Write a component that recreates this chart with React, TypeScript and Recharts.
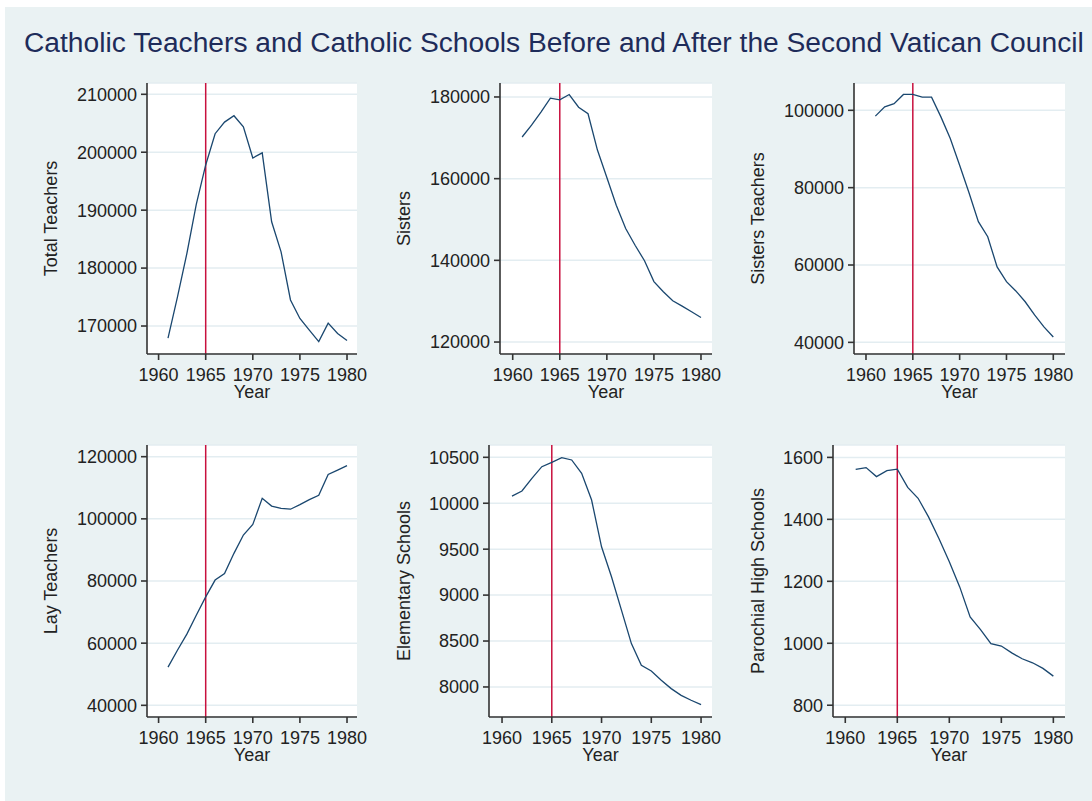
import React from 'react';
import { LineChart, Line, XAxis, YAxis, CartesianGrid, ReferenceLine, Label } from 'recharts';

const years = [1961, 1962, 1963, 1964, 1965, 1966, 1967, 1968, 1969, 1970, 1971, 1972, 1973, 1974, 1975, 1976, 1977, 1978, 1979, 1980];

const totalTeachers = [167900, 175000, 182500, 191000, 197800, 203200, 205200, 206300, 204400, 199000, 199900, 188000, 182800, 174500, 171300, 169300, 167300, 170500, 168700, 167500];
const sisters = [170200, 173100, 176300, 179700, 179300, 180600, 177500, 175900, 167000, 160300, 153500, 147800, 143700, 139900, 134800, 132300, 130100, 128800, 127400, 126000];
const sistersTeachers = [98500, 100900, 101700, 104100, 104100, 103400, 103400, 98300, 92700, 85800, 78700, 71200, 67300, 59500, 55700, 53300, 50500, 47100, 44000, 41400];
const layTeachers = [52300, 57700, 62900, 69000, 74900, 80300, 82400, 88900, 94800, 98200, 106600, 104100, 103400, 103100, 104600, 106200, 107600, 114300, 115700, 117100];
const elementarySchools = [10078, 10133, 10271, 10398, 10445, 10496, 10471, 10326, 10035, 9526, 9199, 8836, 8472, 8236, 8174, 8073, 7982, 7909, 7855, 7807];
const parochialHighSchools = [1561, 1567, 1538, 1557, 1562, 1503, 1468, 1408, 1338, 1263, 1182, 1085, 1044, 999, 991, 969, 950, 937, 919, 894];

const xTicks = [1960, 1965, 1970, 1975, 1980];
const totalTicks = [170000, 180000, 190000, 200000, 210000];
const sistersTicks = [120000, 140000, 160000, 180000];
const sistersTeachersTicks = [40000, 60000, 80000, 100000];
const layTicks = [40000, 60000, 80000, 100000, 120000];
const elementaryTicks = [8000, 8500, 9000, 9500, 10000, 10500];
const parochialTicks = [800, 1000, 1200, 1400, 1600];

const councilYear = 1965;
const chartTitle = 'Catholic Teachers and Catholic Schools Before and After the Second Vatican Council';

const FONT = '"Liberation Sans", Arial, Helvetica, sans-serif';
const TEXT = '#222222';
const AXIS = '#333333';

type Box = { left: number; top: number; right: number; bottom: number };

type PanelProps = {
  label: string;
  values: number[];
  yTicks: number[];
  yDomain: [number, number];
  xDomain: [number, number];
  box: Box;
  labelX: number;
};

function Panel({ label, values, yTicks, yDomain, xDomain, box, labelX }: PanelProps) {
  const data = years.map((y, i) => ({ year: y, v: values[i] }));
  const axisW = 130;
  const mTop = 10;
  const mRight = 10;
  const xH = 60;
  const pw = box.right - box.left;
  const ph = box.bottom - box.top;
  const chartLeft = box.left - axisW;
  const tickStyle = { fill: TEXT, fontSize: 18, fontFamily: FONT };
  return (
    <div style={{ position: 'absolute', left: chartLeft, top: box.top - mTop }}>
      <LineChart
        width={axisW + pw + mRight}
        height={mTop + ph + xH}
        data={data}
        margin={{ top: mTop, right: mRight, bottom: 0, left: 0 }}
      >
        <CartesianGrid vertical={false} fill="#ffffff" fillOpacity={1} stroke="#e3edf1" strokeWidth={1.5} />
        <XAxis
          dataKey="year"
          type="number"
          domain={xDomain}
          ticks={xTicks}
          interval={0}
          allowDataOverflow
          height={xH}
          tickSize={6}
          tickMargin={8}
          tick={tickStyle}
          axisLine={{ stroke: AXIS, strokeWidth: 1.6 }}
          tickLine={{ stroke: AXIS, strokeWidth: 1.6 }}
        >
          <Label value="Year" position="insideBottom" offset={16} style={{ fill: TEXT, fontSize: 18, fontFamily: FONT }} />
        </XAxis>
        <YAxis
          type="number"
          domain={yDomain}
          ticks={yTicks}
          interval={0}
          allowDataOverflow
          width={axisW}
          tickSize={6}
          tickMargin={4}
          tick={tickStyle}
          axisLine={{ stroke: AXIS, strokeWidth: 1.6 }}
          tickLine={{ stroke: AXIS, strokeWidth: 1.6 }}
        >
          <Label
            value={label}
            angle={-90}
            position="insideLeft"
            offset={labelX - chartLeft}
            style={{ textAnchor: 'middle', fill: TEXT, fontSize: 18, fontFamily: FONT }}
          />
        </YAxis>
        <ReferenceLine x={councilYear} stroke="#c8103e" strokeWidth={1.5} />
        <Line
          type="linear"
          dataKey="v"
          stroke="#1a476f"
          strokeWidth={1.3}
          dot={false}
          activeDot={false}
          isAnimationActive={false}
        />
      </LineChart>
    </div>
  );
}

export default function App() {
  return (
    <div
      style={{
        position: 'absolute',
        left: 0,
        top: 0,
        width: 1092,
        height: 801,
        background: '#ffffff',
        overflow: 'hidden',
        fontFamily: FONT,
      }}
    >
      <div style={{ position: 'absolute', left: 5, top: 7, width: 1087, height: 794, background: '#eaf2f3' }} />
      <svg style={{ position: 'absolute', left: 0, top: 0 }} width={1092} height={801}>
        <text x={24} y={52} fontSize={28.2} fill="#1e2c5a" fontFamily={FONT}>
          {chartTitle}
        </text>
      </svg>
      <Panel
        label="Total Teachers"
        values={totalTeachers}
        yTicks={totalTicks}
        yDomain={[165170, 211950]}
        xDomain={[1958.77, 1981.06]}
        box={{ left: 147, top: 83, right: 357, bottom: 354 }}
        labelX={51}
      />
      <Panel
        label="Sisters"
        values={sisters}
        yTicks={sistersTicks}
        yDomain={[117070, 183420]}
        xDomain={[1958.65, 1981.17]}
        box={{ left: 500, top: 83, right: 712, bottom: 354 }}
        labelX={404}
      />
      <Panel
        label="Sisters Teachers"
        values={sistersTeachers}
        yTicks={sistersTeachersTicks}
        yDomain={[36990, 107060]}
        xDomain={[1958.72, 1981.25]}
        box={{ left: 854, top: 83, right: 1065, bottom: 354 }}
        labelX={758}
      />
      <Panel
        label="Lay Teachers"
        values={layTeachers}
        yTicks={layTicks}
        yDomain={[36240, 123760]}
        xDomain={[1958.77, 1981.06]}
        box={{ left: 147, top: 445, right: 357, bottom: 717 }}
        labelX={51}
      />
      <Panel
        label="Elementary Schools"
        values={elementarySchools}
        yTicks={elementaryTicks}
        yDomain={[7673, 10634]}
        xDomain={[1958.69, 1981.1]}
        box={{ left: 489, top: 445, right: 712, bottom: 717 }}
        labelX={404}
      />
      <Panel
        label="Parochial High Schools"
        values={parochialHighSchools}
        yTicks={parochialTicks}
        yDomain={[762, 1640]}
        xDomain={[1958.82, 1981.12]}
        box={{ left: 833, top: 445, right: 1065, bottom: 717 }}
        labelX={758}
      />
    </div>
  );
}
